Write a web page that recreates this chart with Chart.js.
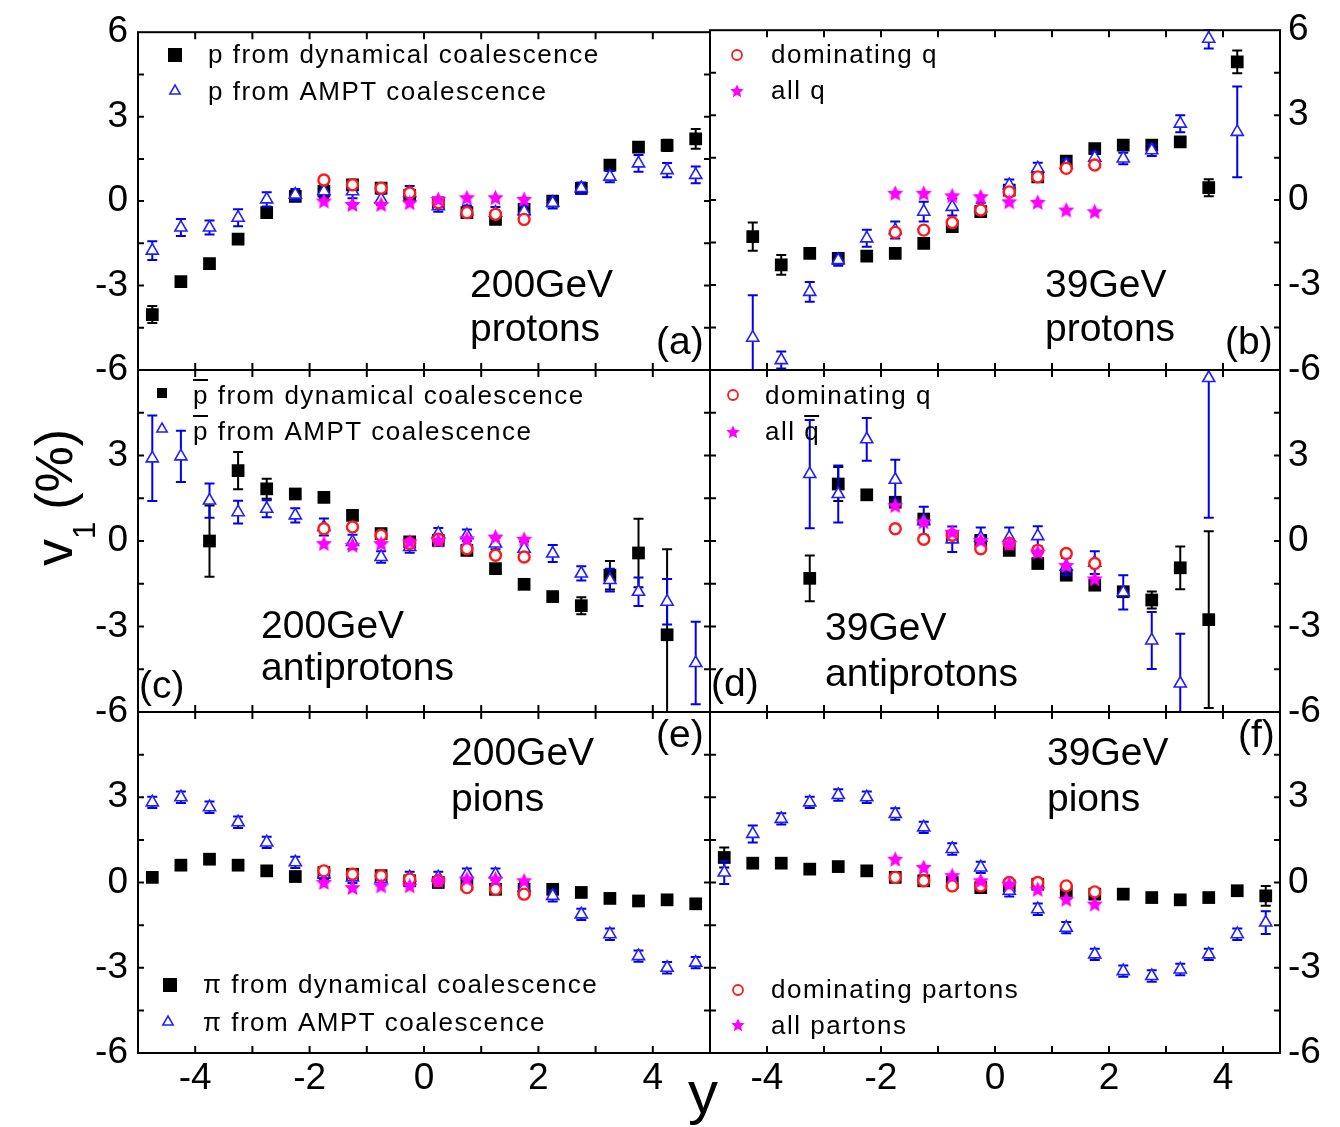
<!DOCTYPE html>
<html>
<head>
<meta charset="utf-8">
<script src="https://cdn.jsdelivr.net/npm/chart.js@4.4.0/dist/chart.umd.min.js"></script>
<style>
  body { margin: 0; background: #fff; }
  #wrap { position: relative; width: 1340px; height: 1127px; overflow: hidden; }
  #wrap canvas { position: absolute; left: 0; top: 0; }
</style>
</head>
<body>
<div id="wrap">
  <canvas id="pa" width="1340" height="1127"></canvas>
  <canvas id="pb" width="1340" height="1127"></canvas>
  <canvas id="pc" width="1340" height="1127"></canvas>
  <canvas id="pd" width="1340" height="1127"></canvas>
  <canvas id="pe" width="1340" height="1127"></canvas>
  <canvas id="pf" width="1340" height="1127"></canvas>
  <canvas id="titles" width="1340" height="1127"></canvas>
</div>
<script>
// rapidity bins
const X20 = [-4.75,-4.25,-3.75,-3.25,-2.75,-2.25,-1.75,-1.25,-0.75,-0.25,0.25,0.75,1.25,1.75,2.25,2.75,3.25,3.75,4.25,4.75];
const X18 = [-4.25,-3.75,-3.25,-2.75,-2.25,-1.75,-1.25,-0.75,-0.25,0.25,0.75,1.25,1.75,2.25,2.75,3.25,3.75,4.25];
const X17 = [-3.75,-3.25,-2.75,-2.25,-1.75,-1.25,-0.75,-0.25,0.25,0.75,1.25,1.75,2.25,2.75,3.25,3.75,4.25];
const X15 = [-3.25,-2.75,-2.25,-1.75,-1.25,-0.75,-0.25,0.25,0.75,1.25,1.75,2.25,2.75,3.25,3.75];
const X8 = [-1.75,-1.25,-0.75,-0.25,0.25,0.75,1.25,1.75];

// (a) 200 GeV protons
const aDyn = [-4.03,-2.86,-2.22,-1.35,-0.41,0.17,0.35,0.58,0.46,0.2,-0.06,-0.41,-0.65,-0.29,0.0,0.45,1.28,1.92,1.98,2.21];
const aDynErr = [0.3,0.15,0.15,0.15,0.15,0.15,0.15,0.15,0.15,0.15,0.15,0.15,0.15,0.15,0.15,0.15,0.15,0.15,0.2,0.35];
const aAmpt = [-1.76,-0.94,-0.94,-0.59,0.06,0.23,0.35,0.35,0.06,0.29,-0.18,-0.36,-0.41,-0.36,-0.06,0.46,0.87,1.34,1.1,0.93];
const aAmptErr = [0.33,0.3,0.25,0.3,0.25,0.2,0.25,0.25,0.2,0.25,0.2,0.2,0.2,0.2,0.2,0.2,0.2,0.3,0.25,0.3];
const aDom = [0.75,0.58,0.46,0.29,-0.06,-0.41,-0.47,-0.65];
const aAll = [0.0,-0.12,-0.12,-0.06,0.06,0.12,0.12,0.06];

// (b) 39 GeV protons
const bDyn = [-1.29,-2.29,-1.88,-2.06,-1.98,-1.88,-1.53,-0.94,-0.41,0.35,0.82,1.38,1.82,1.94,1.94,2.06,0.44,4.88];
const bDynErr = [0.5,0.35,0.15,0.15,0.15,0.15,0.15,0.15,0.15,0.15,0.15,0.15,0.15,0.15,0.15,0.15,0.3,0.4];
const bAmpt = [-4.86,-5.65,-3.24,-2.12,-1.35,-1.06,-0.41,-0.24,-0.29,0.53,1.12,1.24,1.5,1.47,1.76,2.7,5.7,2.41];
const bAmptErr = [1.5,0.3,0.35,0.2,0.3,0.3,0.35,0.3,0.2,0.2,0.2,0.2,0.2,0.2,0.2,0.3,0.35,1.6];
const bDom = [-1.14,-1.06,-0.79,-0.35,0.29,0.82,1.12,1.24];
const bAll = [0.24,0.24,0.15,0.12,-0.06,-0.08,-0.35,-0.41];

// (c) 200 GeV antiprotons
const cDyn = [0.0,2.47,1.83,1.65,1.53,0.9,0.26,-0.03,0.02,-0.33,-0.97,-1.52,-1.95,-2.27,-1.2,-0.42,-3.29];
const cDynErr = [1.25,0.65,0.35,0.15,0.15,0.15,0.15,0.15,0.15,0.15,0.15,0.15,0.15,0.3,0.5,1.2,3.0];
const cAmpt = [2.9,2.97,1.42,1.01,1.13,0.9,0.49,-0.03,-0.56,-0.21,0.26,0.2,-0.09,-0.27,-0.44,-1.14,-1.37,-1.78,-2.13,-4.28];
const cAmptErr = [1.5,0.9,0.6,0.4,0.3,0.25,0.3,0.25,0.2,0.2,0.2,0.2,0.2,0.25,0.3,0.25,0.4,0.5,0.8,1.45];
const cDom = [0.43,0.49,0.2,-0.09,0.06,-0.27,-0.5,-0.56];
const cAll = [-0.09,-0.15,-0.09,-0.03,0.02,0.08,0.14,0.06];

// (d) 39 GeV antiprotons
const dDyn = [-1.31,2.0,1.62,1.36,0.77,0.14,0.02,-0.33,-0.79,-1.2,-1.55,-1.78,-2.07,-0.94,-2.76];
const dDynErr = [0.8,0.6,0.15,0.15,0.15,0.15,0.15,0.15,0.15,0.15,0.15,0.15,0.3,0.75,3.1];
const dAmpt = [2.35,1.65,3.57,2.15,0.7,0.06,0.12,0.12,0.17,-0.9,-0.76,-1.8,-3.49,-5.0,5.72];
const dAmptErr = [1.9,1.0,0.75,0.7,0.5,0.45,0.35,0.35,0.35,0.3,0.4,0.6,1.0,1.75,4.9];
const dDom = [0.43,0.06,0.2,-0.27,-0.09,-0.33,-0.44,-0.79];
const dAll = [1.24,0.67,0.31,0.02,-0.09,-0.39,-0.86,-1.33];

// (e) 200 GeV pions
const eDyn = [0.18,0.61,0.82,0.61,0.41,0.21,0.35,0.29,0.24,0.06,0.0,-0.06,-0.24,-0.24,-0.24,-0.35,-0.56,-0.65,-0.61,-0.75];
const eDynErr = [0.1,0.1,0.1,0.1,0.1,0.1,0.1,0.1,0.1,0.1,0.1,0.1,0.1,0.1,0.1,0.1,0.1,0.1,0.1,0.1];
const eAmpt = [2.82,3.0,2.65,2.12,1.41,0.71,0.29,0.18,0.12,0.18,0.18,0.29,0.29,-0.18,-0.47,-1.12,-1.82,-2.59,-3.0,-2.82];
const eAmptErr = [0.2,0.2,0.2,0.2,0.2,0.2,0.2,0.2,0.2,0.2,0.2,0.2,0.2,0.2,0.2,0.2,0.2,0.2,0.2,0.2];
const eDom = [0.41,0.29,0.24,0.12,0.06,-0.18,-0.24,-0.41];
const eAll = [0.0,-0.18,-0.12,-0.12,0.06,0.12,0.12,0.06];

// (f) 39 GeV pions
const fDyn = [0.88,0.68,0.68,0.47,0.56,0.41,0.18,0.06,0.0,-0.18,-0.12,-0.06,-0.29,-0.41,-0.41,-0.53,-0.61,-0.53,-0.29,-0.47];
const fDynErr = [0.35,0.1,0.1,0.1,0.1,0.1,0.1,0.1,0.1,0.1,0.1,0.1,0.1,0.1,0.1,0.1,0.1,0.1,0.15,0.35];
const fAmpt = [0.35,1.71,2.24,2.82,3.08,3.0,2.41,1.94,1.18,0.53,-0.29,-0.94,-1.59,-2.53,-3.12,-3.29,-3.06,-2.53,-1.82,-1.41];
const fAmptErr = [0.4,0.3,0.2,0.2,0.2,0.2,0.2,0.2,0.2,0.2,0.2,0.2,0.2,0.2,0.2,0.2,0.2,0.2,0.2,0.4];
const fDom = [0.18,0.06,-0.12,-0.12,0.0,0.0,-0.12,-0.33];
const fAll = [0.82,0.53,0.24,0.06,-0.06,-0.24,-0.59,-0.76];

const FONT = '"Liberation Sans", Arial, sans-serif';
const BLUE = '#1f1fff', RED = '#ff1a1a', MAG = '#ff00ff';
Chart.defaults.font.family = FONT;
Chart.defaults.color = '#000';

// panel frames in page pixels
const COLS = [[138, 710], [710, 1280]];
const ROWS = [[27, 370], [370, 712], [712, 1053]];

function makeStar(size) {
  const c = document.createElement('canvas');
  c.width = c.height = size;
  const g = c.getContext('2d');
  g.fillStyle = MAG;
  g.beginPath();
  for (let i = 0; i < 10; i++) {
    const r = i % 2 ? size * 0.24 : size * 0.5;
    const a = -Math.PI / 2 + i * Math.PI / 5;
    g.lineTo(size / 2 + r * Math.cos(a), size / 2 + 0.5 + r * Math.sin(a));
  }
  g.closePath();
  g.fill();
  return c;
}
const STAR = makeStar(17);
const STAR_SMALL = makeStar(14);

const pts = (xs, ys) => xs.map((x, i) => ({ x, y: ys[i] }));

function dynSet(xs, ys, err) {
  return { data: pts(xs, ys), err, pointStyle: 'rect', pointRadius: 9, backgroundColor: '#000', borderColor: '#000', borderWidth: 0, order: 4 };
}
function amptSet(xs, ys, err) {
  return { data: pts(xs, ys), err, pointStyle: 'triangle', pointRadius: 7, backgroundColor: '#fff', borderColor: BLUE, borderWidth: 1.6, order: 3 };
}
function domSet(ys) {
  return { data: pts(X8, ys), pointStyle: 'circle', pointRadius: 5.5, backgroundColor: '#fff', borderColor: RED, borderWidth: 2.4, order: 2 };
}
function allSet(ys) {
  return { data: pts(X8, ys), pointStyle: STAR, pointRadius: 8, backgroundColor: MAG, borderColor: MAG, borderWidth: 0, order: 1 };
}

const PANELS = [
  { id: 'pa', col: 0, row: 0,
    sets: [dynSet(X20, aDyn, aDynErr), amptSet(X20, aAmpt, aAmptErr), domSet(aDom), allSet(aAll)],
    legend: [
      { sym: 'sq', x: 175, y: 55, r: 7, text: 'p from dynamical coalescence', tx: 208, ty: 63 },
      { sym: 'tri', x: 175, y: 91, r: 6, text: 'p from AMPT coalescence', tx: 208, ty: 100 }
    ],
    notes: [
      { text: '200GeV', x: 470, y: 297 }, { text: 'protons', x: 470, y: 341 }, { text: '(a)', x: 656, y: 354 }
    ] },
  { id: 'pb', col: 1, row: 0,
    sets: [dynSet(X18, bDyn, bDynErr), amptSet(X18, bAmpt, bAmptErr), domSet(bDom), allSet(bAll)],
    legend: [
      { sym: 'circ', x: 737, y: 55, r: 5, text: 'dominating q', tx: 771, ty: 63 },
      { sym: 'star', x: 737, y: 91, r: 6, text: 'all q', tx: 771, ty: 99 }
    ],
    notes: [
      { text: '39GeV', x: 1045, y: 297 }, { text: 'protons', x: 1045, y: 341 }, { text: '(b)', x: 1225, y: 354 }
    ] },
  { id: 'pc', col: 0, row: 1,
    sets: [dynSet(X17, cDyn, cDynErr), amptSet(X20, cAmpt, cAmptErr), domSet(cDom), allSet(cAll)],
    legend: [
      { sym: 'sq', x: 162, y: 393, r: 5, text: 'p from dynamical coalescence', tx: 193, ty: 404, bar: [0, 1] },
      { sym: 'tri', x: 162, y: 429, r: 6, text: 'p from AMPT coalescence', tx: 193, ty: 440, bar: [0, 1] }
    ],
    notes: [
      { text: '200GeV', x: 261, y: 638 }, { text: 'antiprotons', x: 261, y: 680 }, { text: '(c)', x: 139, y: 698 }
    ] },
  { id: 'pd', col: 1, row: 1,
    sets: [dynSet(X15, dDyn, dDynErr), amptSet(X15, dAmpt, dAmptErr), domSet(dDom), allSet(dAll)],
    legend: [
      { sym: 'circ', x: 733, y: 395, r: 5, text: 'dominating q', tx: 765, ty: 404 },
      { sym: 'star', x: 733, y: 432, r: 6, text: 'all q', tx: 765, ty: 440, bar: [4, 5] }
    ],
    notes: [
      { text: '39GeV', x: 825, y: 640 }, { text: 'antiprotons', x: 825, y: 686 }, { text: '(d)', x: 711, y: 696 }
    ] },
  { id: 'pe', col: 0, row: 2,
    sets: [dynSet(X20, eDyn, eDynErr), amptSet(X20, eAmpt, eAmptErr), domSet(eDom), allSet(eAll)],
    legend: [
      { sym: 'sq', x: 170, y: 985, r: 7, text: '\u03c0 from dynamical coalescence', tx: 203, ty: 993 },
      { sym: 'tri', x: 168, y: 1022, r: 6, text: '\u03c0 from AMPT coalescence', tx: 203, ty: 1031 }
    ],
    notes: [
      { text: '200GeV', x: 451, y: 765 }, { text: 'pions', x: 451, y: 811 }, { text: '(e)', x: 656, y: 747 }
    ] },
  { id: 'pf', col: 1, row: 2,
    sets: [dynSet(X20, fDyn, fDynErr), amptSet(X20, fAmpt, fAmptErr), domSet(fDom), allSet(fAll)],
    legend: [
      { sym: 'circ', x: 738, y: 990, r: 5, text: 'dominating partons', tx: 771, ty: 998 },
      { sym: 'star', x: 738, y: 1025, r: 6, text: 'all partons', tx: 771, ty: 1034 }
    ],
    notes: [
      { text: '39GeV', x: 1047, y: 765 }, { text: 'pions', x: 1047, y: 811 }, { text: '(f)', x: 1238, y: 747 }
    ] }
];

// vertical error bars, drawn just before each dataset so markers sit on top
const errPlugin = {
  id: 'errbars',
  beforeDatasetDraw(chart, args) {
    const ds = chart.data.datasets[args.index];
    if (!ds.err) return;
    const ctx = chart.ctx, ys = chart.scales.y, a = chart.chartArea;
    ctx.save();
    ctx.beginPath();
    ctx.rect(a.left, a.top - 1, a.right - a.left, a.bottom - a.top + 2);
    ctx.clip();
    ctx.strokeStyle = ds.borderColor === '#000' ? '#000' : '#0000ee';
    ctx.lineWidth = 2;
    ctx.beginPath();
    args.meta.data.forEach((pt, i) => {
      const v = ds.data[i].y, e = ds.err[i];
      const top = ys.getPixelForValue(v + e), bot = ys.getPixelForValue(v - e);
      ctx.moveTo(pt.x, top); ctx.lineTo(pt.x, bot);
      ctx.moveTo(pt.x - 5, top); ctx.lineTo(pt.x + 5, top);
      ctx.moveTo(pt.x - 5, bot); ctx.lineTo(pt.x + 5, bot);
    });
    ctx.stroke();
    ctx.restore();
  }
};

// box frame with inward ticks on all four sides
const framePlugin = {
  id: 'frame',
  afterDatasetsDraw(chart) {
    const { ctx, chartArea: a } = chart;
    const xs = chart.scales.x, ys = chart.scales.y;
    ctx.save();
    ctx.strokeStyle = '#000';
    ctx.lineWidth = 2;
    ctx.strokeRect(a.left, a.top, a.right - a.left, a.bottom - a.top);
    ctx.beginPath();
    xs.ticks.forEach(t => {
      const px = xs.getPixelForValue(t.value);
      if (px <= a.left + 2 || px >= a.right - 2) return;
      ctx.moveTo(px, a.bottom); ctx.lineTo(px, a.bottom - 7);
      ctx.moveTo(px, a.top); ctx.lineTo(px, a.top + 7);
    });
    ys.ticks.forEach(t => {
      const py = ys.getPixelForValue(t.value);
      if (py <= a.top + 2 || py >= a.bottom - 2) return;
      ctx.moveTo(a.left, py); ctx.lineTo(a.left + 6, py);
      ctx.moveTo(a.right, py); ctx.lineTo(a.right - 6, py);
    });
    ctx.stroke();
    ctx.restore();
  }
};

function drawSym(ctx, sym, x, y, r) {
  ctx.save();
  if (sym === 'sq') {
    ctx.fillStyle = '#000';
    ctx.fillRect(x - r, y - r, 2 * r, 2 * r);
  } else if (sym === 'tri') {
    ctx.strokeStyle = BLUE; ctx.lineWidth = 1.5;
    ctx.beginPath();
    ctx.moveTo(x, y - r); ctx.lineTo(x + r * 0.87, y + r * 0.5); ctx.lineTo(x - r * 0.87, y + r * 0.5);
    ctx.closePath(); ctx.stroke();
  } else if (sym === 'circ') {
    ctx.strokeStyle = RED; ctx.lineWidth = 1.8;
    ctx.beginPath(); ctx.arc(x, y, r, 0, Math.PI * 2); ctx.stroke();
  } else {
    ctx.drawImage(STAR_SMALL, x - STAR_SMALL.width / 2, y - STAR_SMALL.height / 2);
  }
  ctx.restore();
}

// legends and in-panel labels
const notesPlugin = {
  id: 'notes',
  afterDraw(chart) {
    const p = PANELS.find(q => q.id === chart.canvas.id);
    const ctx = chart.ctx;
    ctx.save();
    ctx.fillStyle = '#000';
    ctx.textBaseline = 'alphabetic';
    ctx.textAlign = 'left';
    p.legend.forEach(l => {
      drawSym(ctx, l.sym, l.x, l.y, l.r);
      ctx.font = '26px ' + FONT;
      if ('letterSpacing' in ctx) ctx.letterSpacing = '1.5px';
      ctx.fillText(l.text, l.tx, l.ty);
      if (l.bar) {
        const x0 = l.tx + ctx.measureText(l.text.slice(0, l.bar[0])).width;
        const x1 = l.tx + ctx.measureText(l.text.slice(0, l.bar[1])).width - 1;
        ctx.fillRect(x0, l.ty - 25, x1 - x0, 2);
      }
    });
    if ('letterSpacing' in ctx) ctx.letterSpacing = '0px';
    ctx.font = '39px ' + FONT;
    p.notes.forEach(n => ctx.fillText(n.text, n.x, n.y));
    ctx.restore();
  }
};

PANELS.forEach(p => {
  const [x0, x1] = COLS[p.col];
  const [y0, y1] = ROWS[p.row];
  const yW = p.col === 0 ? 80 : 50;
  const xH = 60;
  new Chart(document.getElementById(p.id), {
    type: 'scatter',
    data: { datasets: p.sets },
    options: {
      responsive: false,
      animation: false,
      events: [],
      layout: {
        autoPadding: false,
        padding: p.col === 0
          ? { left: x0 - yW, right: 1340 - x1, top: y0, bottom: 1127 - y1 - xH }
          : { left: x0, right: 1340 - x1 - yW, top: y0, bottom: 1127 - y1 - xH }
      },
      plugins: { legend: { display: false }, tooltip: { enabled: false } },
      scales: {
        x: {
          type: 'linear', position: 'bottom', min: -5, max: 5,
          afterFit: s => { s.height = xH; },
          grid: { display: false, drawTicks: false },
          border: { display: false },
          ticks: {
            display: p.row === 2, stepSize: 1, autoSkip: false, maxRotation: 0, minRotation: 0,
            padding: 4, color: '#000', font: { size: 37 },
            callback: v => (v % 2 === 0 && Math.abs(v) < 5) ? String(v) : ''
          }
        },
        y: {
          type: 'linear', position: p.col === 0 ? 'left' : 'right', min: -6, max: 6,
          afterFit: s => { s.width = yW; },
          grid: { display: false, drawTicks: false },
          border: { display: false },
          ticks: {
            stepSize: 1.5, autoSkip: false, padding: p.col === 0 ? 10 : 8, color: '#000', font: { size: 37 },
            callback: v => (v % 3 === 0 && !(p.row > 0 && v === 6)) ? String(v) : ''
          }
        }
      }
    },
    plugins: [errPlugin, framePlugin, notesPlugin]
  });
});

// axis titles
(function () {
  const ctx = document.getElementById('titles').getContext('2d');
  ctx.fillStyle = '#000';
  ctx.font = '60px ' + FONT;
  ctx.textAlign = 'center';
  ctx.fillText('y', 703, 1113);
  ctx.save();
  ctx.translate(72, 566);
  ctx.rotate(-Math.PI / 2);
  ctx.textAlign = 'left';
  ctx.font = '54px ' + FONT;
  ctx.fillText('v', 0, 0);
  let w = ctx.measureText('v').width;
  ctx.font = '31px ' + FONT;
  ctx.fillText('1', w, 23);
  w += ctx.measureText('1').width + 12;
  ctx.font = '52px ' + FONT;
  ctx.fillText('(%)', w, 0);
  ctx.restore();
})();
</script>
</body>
</html>
